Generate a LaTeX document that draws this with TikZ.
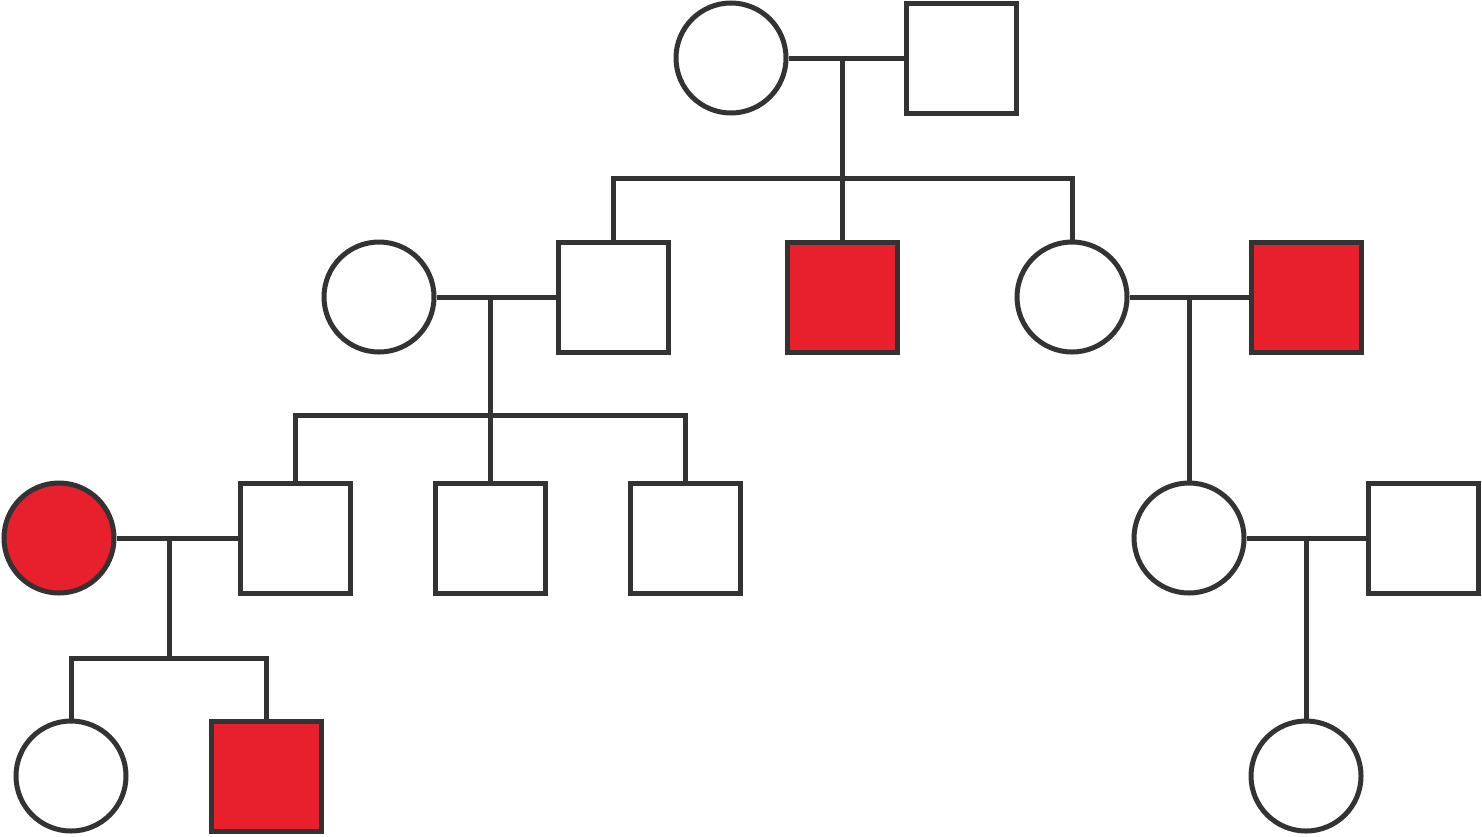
\documentclass[tikz,border=0pt]{standalone}
\usepackage{tikz}
\definecolor{linegray}{HTML}{333333}
\definecolor{affred}{HTML}{E81F2C}

\begin{document}
\begin{tikzpicture}[
        female/.style = {circle, draw=linegray, fill=#1, line width=0.05cm, minimum size=1.10cm, inner sep=0, node contents={}},
        male/.style = {rectangle, draw=linegray, fill=#1, line width=0.05cm, minimum size=1.10cm, inner sep=0, node contents={}},
        link/.style = {draw=linegray, line width=0.05cm}
        ]
        \useasboundingbox (0,0) rectangle (14.82,8.36);

        % generation I
        \node (I1) at (7.31,7.78)     [female=white];
        \node (I2) at (9.61,7.78)     [male=white];

        % generation II
        \node (II1) at (3.79,5.39)    [female=white];
        \node (II2) at (6.13,5.39)    [male=white];
        \node (II3) at (8.42,5.39)    [male=affred];
        \node (II4) at (10.72,5.39)   [female=white];
        \node (II5) at (13.06,5.39)   [male=affred];

        % generation III
        \node (III1) at (0.59,2.98)   [female=affred];
        \node (III2) at (2.95,2.98)   [male=white];
        \node (III3) at (4.90,2.98)   [male=white];
        \node (III4) at (6.85,2.98)   [male=white];
        \node (III5) at (11.89,2.98)  [female=white];
        \node (III6) at (14.23,2.98)  [male=white];

        % generation IV
        \node (IV1) at (0.71,0.60)    [female=white];
        \node (IV2) at (2.66,0.60)    [male=affred];
        \node (IV3) at (13.06,0.60)   [female=white];

        % marriage points and sibship lines
        \coordinate (m1) at (8.42,7.78);
        \coordinate (s1) at (8.42,6.58);
        \coordinate (m2) at (4.90,5.39);
        \coordinate (s2) at (4.90,4.21);
        \coordinate (m3) at (11.89,5.39);
        \coordinate (m4) at (1.69,2.98);
        \coordinate (s4) at (1.69,1.78);
        \coordinate (m5) at (13.06,2.98);

        \draw[link] (I1.east) -- (I2.west);
        \draw[link] (m1) -- (II3.north);
        \draw[link] (II2.north) |- (s1) -| (II4.north);

        \draw[link] (II1.east) -- (II2.west);
        \draw[link] (m2) -- (III3.north);
        \draw[link] (III2.north) |- (s2) -| (III4.north);

        \draw[link] (II4.east) -- (II5.west);
        \draw[link] (m3) -- (III5.north);

        \draw[link] (III1.east) -- (III2.west);
        \draw[link] (m4) -- (s4);
        \draw[link] (IV1.north) |- (s4) -| (IV2.north);

        \draw[link] (III5.east) -- (III6.west);
        \draw[link] (m5) -- (IV3.north);
    \end{tikzpicture}
\end{document}
